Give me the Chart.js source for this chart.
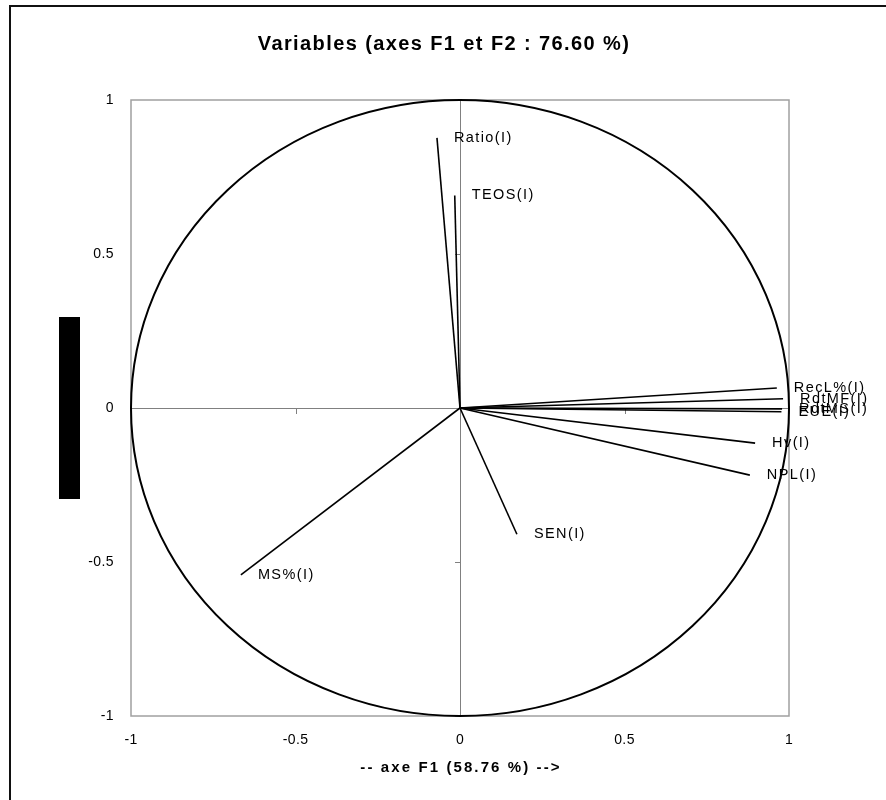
<!DOCTYPE html>
<html>
<head>
<meta charset="utf-8">
<title>Variables F1 / F2</title>
<script src="https://cdn.jsdelivr.net/npm/chart.js@4/dist/chart.umd.min.js"></script>
<style>
    html, body { margin: 0; padding: 0; background: #fff; }
    #wrap { position: relative; width: 886px; height: 800px; }
</style>
</head>
<body>
<div id="wrap"><canvas id="circleChart" width="886" height="800"></canvas></div>
<script>
// Variable loadings on the first two factorial axes
const variables = ['Ratio(I)', 'TEOS(I)', 'RecL%(I)', 'RdtMF(I)', 'RdtMS(I)', 'EUE(I)', 'Hv(I)', 'NPL(I)', 'SEN(I)', 'MS%(I)'];
const f1Values = [-0.070, -0.016, 0.963, 0.982, 0.979, 0.977, 0.897, 0.881, 0.173, -0.666];
const f2Values = [0.877, 0.690, 0.065, 0.030, -0.003, -0.012, -0.114, -0.218, -0.410, -0.542];
const axisTicks = [-1, -0.5, 0, 0.5, 1];

const chartTitle = 'Variables (axes F1 et F2 : 76.60 %)';
const xTitle = '-- axe F1 (58.76 %) -->';

const FONT = "'Liberation Sans', Arial, sans-serif";

// one segment per variable, from the origin out to its loading
const datasets = variables.map((name, i) => ({
    label: name,
    data: [{ x: 0, y: 0 }, { x: f1Values[i], y: f2Values[i] }],
    showLine: true,
    borderColor: '#000',
    borderWidth: 1.6,
    pointRadius: 0,
    fill: false
}));

// frame, titles, unit circle, zero axes and the vector labels
const circlePlugin = {
    id: 'circlePlugin',
    beforeDraw(chart) {
        const ctx = chart.ctx;
        const area = chart.chartArea;
        ctx.save();
        ctx.fillStyle = '#fff';
        ctx.fillRect(0, 0, chart.width, chart.height);
        // outer frame
        ctx.strokeStyle = '#111';
        ctx.lineWidth = 2;
        ctx.beginPath();
        ctx.moveTo(10, chart.height + 2);
        ctx.lineTo(10, 6);
        ctx.lineTo(chart.width + 2, 6);
        ctx.stroke();
        // plot border
        ctx.strokeStyle = '#a0a0a0';
        ctx.lineWidth = 1.5;
        ctx.strokeRect(area.left, area.top, area.right - area.left, area.bottom - area.top);
        // titles
        ctx.fillStyle = '#000';
        ctx.textAlign = 'center';
        ctx.textBaseline = 'middle';
        ctx.font = 'bold 20px ' + FONT;
        ctx.letterSpacing = '1.4px';
        ctx.fillText(chartTitle, chart.width / 2 + 1, 44);
        ctx.font = 'bold 15px ' + FONT;
        ctx.letterSpacing = '2.1px';
        ctx.fillText(xTitle, (area.left + area.right) / 2 + 1, 768);
        ctx.restore();
        // tick labels are drawn slightly spaced out
        ctx.letterSpacing = '0.4px';
    },
    beforeDatasetsDraw(chart) {
        const ctx = chart.ctx;
        const xs = chart.scales.x, ys = chart.scales.y;
        const cx = xs.getPixelForValue(0), cy = ys.getPixelForValue(0);
        ctx.save();
        // zero axes
        ctx.strokeStyle = '#808080';
        ctx.lineWidth = 1;
        ctx.beginPath();
        ctx.moveTo(xs.left, cy + 0.5);
        ctx.lineTo(xs.right, cy + 0.5);
        ctx.moveTo(cx + 0.5, ys.top);
        ctx.lineTo(cx + 0.5, ys.bottom);
        axisTicks.forEach(t => {
            if (t === 0) return;
            const px = Math.round(xs.getPixelForValue(t)) + 0.5;
            ctx.moveTo(px, cy);
            ctx.lineTo(px, cy + 6);
            const py = Math.round(ys.getPixelForValue(t)) + 0.5;
            ctx.moveTo(cx - 5, py);
            ctx.lineTo(cx, py);
        });
        ctx.stroke();
        // correlation circle
        ctx.strokeStyle = '#000';
        ctx.lineWidth = 2;
        ctx.beginPath();
        ctx.ellipse(cx, cy, xs.getPixelForValue(1) - cx, cy - ys.getPixelForValue(1), 0, 0, Math.PI * 2);
        ctx.stroke();
        // bar left of the plot where the F2 title sits
        ctx.fillStyle = '#000';
        ctx.fillRect(59, cy - 91, 21, 182);
        ctx.restore();
    },
    afterDatasetsDraw(chart) {
        const ctx = chart.ctx;
        const xs = chart.scales.x, ys = chart.scales.y;
        ctx.save();
        ctx.fillStyle = '#000';
        ctx.font = '14.5px ' + FONT;
        ctx.letterSpacing = '1.4px';
        ctx.textAlign = 'left';
        ctx.textBaseline = 'middle';
        variables.forEach((name, i) => {
            ctx.fillText(name, xs.getPixelForValue(f1Values[i]) + 17, ys.getPixelForValue(f2Values[i]));
        });
        ctx.restore();
    }
};

new Chart(document.getElementById('circleChart'), {
    type: 'scatter',
    data: { datasets },
    plugins: [circlePlugin],
    options: {
        responsive: false,
        animation: false,
        layout: { padding: { left: 0, right: 97, top: 100, bottom: 0 } },
        plugins: {
            legend: { display: false },
            tooltip: { enabled: false },
            title: { display: false }
        },
        scales: {
            x: {
                type: 'linear',
                min: -1,
                max: 1,
                afterBuildTicks: scale => { scale.ticks = axisTicks.map(v => ({ value: v })); },
                afterFit: scale => { scale.height = 84; },
                grid: { display: false, drawTicks: false },
                border: { display: false },
                ticks: { color: '#000', padding: 16, font: { family: FONT, size: 14 }, callback: v => String(v) }
            },
            y: {
                type: 'linear',
                min: -1,
                max: 1,
                afterBuildTicks: scale => { scale.ticks = axisTicks.map(v => ({ value: v })); },
                afterFit: scale => { scale.width = 131; },
                grid: { display: false, drawTicks: false },
                border: { display: false },
                ticks: { color: '#000', padding: 17, font: { family: FONT, size: 14 }, callback: v => String(v) }
            }
        }
    }
});
</script>
</body>
</html>
